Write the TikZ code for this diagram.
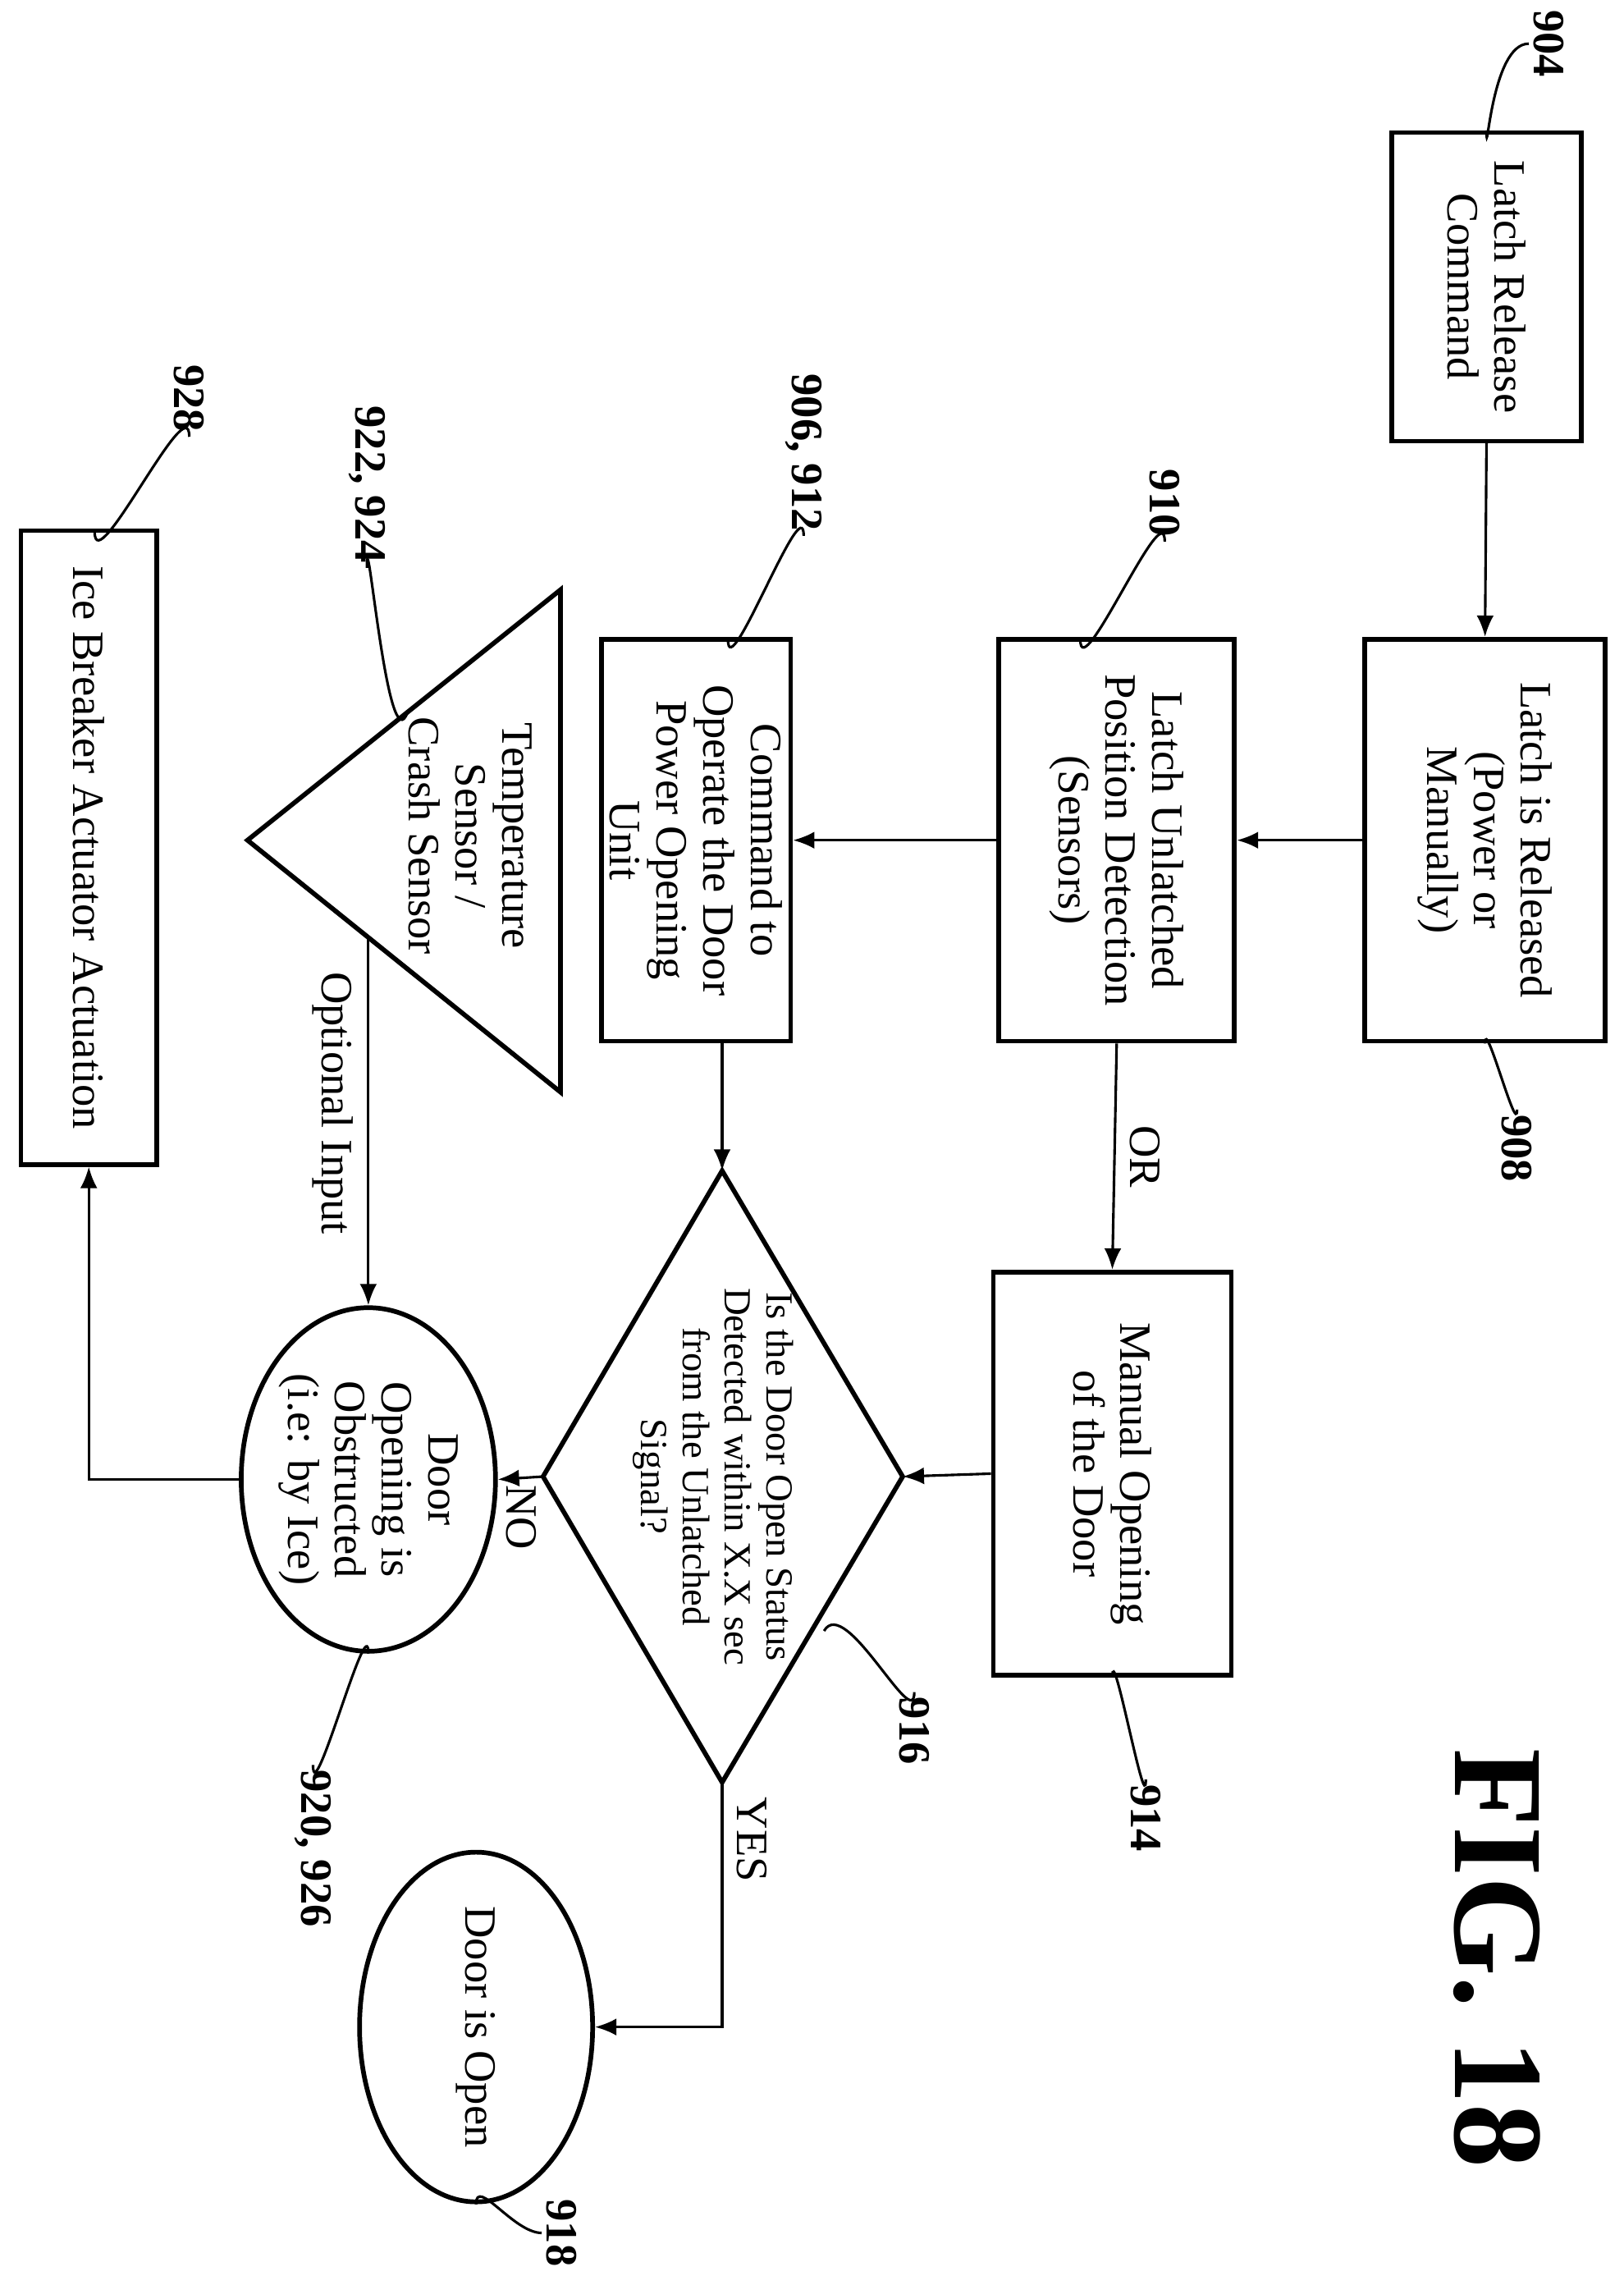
\documentclass[tikz,border=0pt]{standalone}
\usepackage{fontspec}
\setmainfont{Liberation Serif}
\usetikzlibrary{shapes.geometric,arrows.meta}

\tikzset{
  box/.style={draw, line width=1.1pt, rotate=-90, align=center, inner sep=2pt},
  oval/.style={draw, line width=1.1pt, ellipse, rotate=-90, align=center, inner sep=0pt},
  txt/.style={rotate=-90, align=center, font=\fontsize{10.5}{11}\selectfont},
  ref/.style={rotate=-90, font=\bfseries\fontsize{10.5}{11}\selectfont, inner sep=1pt},
  flow/.style={-{Latex[length=5pt,width=4pt]}, line width=0.6pt},
  lead/.style={line width=0.6pt},
}

\begin{document}
\begin{tikzpicture}[x=0.012cm, y=-0.012cm, font=\fontsize{10.5}{11}\selectfont]
  \useasboundingbox (0,0) rectangle (1115,1563);

  % boxes
  \node[box, minimum width=2.54cm, minimum height=1.56cm] (n904) at (1021,197) {Latch Release\\Command};
  \node[box, minimum width=3.31cm, minimum height=1.98cm] (n908) at (1020,577) {Latch is Released\\(Power or\\Manually)};
  \node[box, minimum width=3.31cm, minimum height=1.94cm] (n910) at (767,577) {Latch Unlatched\\Position Detection\\(Sensors)};
  \node[box, minimum width=3.31cm, minimum height=1.36cm] (n906) at (478,577) {Command to\\Operate the Door\\Power Opening\\Unit};
  \node[box, minimum width=3.32cm, minimum height=1.96cm] (n914) at (764,1012) {Manual Opening\\of the Door};
  \node[box, minimum width=5.22cm, minimum height=1.12cm] (ice) at (61,582) {Ice Breaker Actuator Actuation};

  % decision
  \coordinate (dT) at (496,804);
  \coordinate (dR) at (620,1014);
  \coordinate (dB) at (496,1224);
  \coordinate (dL) at (373,1014);
  \draw[line width=1.1pt] (dT) -- (dR) -- (dB) -- (dL) -- cycle;
  \node[txt, font=\fontsize{9}{9.8}\selectfont] (dia) at (490,1014) {Is the Door Open Status\\Detected within X.X sec\\from the Unlatched\\Signal?};

  % ends
  \node[oval, minimum width=2.83cm, minimum height=1.94cm] (n920) at (253,1016) {Door\\Opening is\\Obstructed\\(i.e: by Ice)};
  \node[oval, minimum width=2.88cm, minimum height=1.92cm] (n918) at (327,1392) {Door is Open};

  % sensor triangle
  \coordinate (t1) at (385,405);
  \coordinate (t2) at (385,750);
  \coordinate (t3) at (170,577);
  \draw[line width=1.1pt] (t1) -- (t2) -- (t3) -- cycle;
  \node[txt] (sens) at (323,574) {Temperature\\Sensor /\\Crash Sensor};
  \coordinate (sout) at (253,644);

  % flow
  \draw[flow] (n904.east) -- (n908.west);
  \draw[flow] (n908.south) -- (n910.north);
  \draw[flow] (n910.south) -- (n906.north);
  \draw[flow] (n910.east) -- node[txt, above] {OR} (n914.west);
  \draw[flow] (dT |- n906.east) -- (dT);
  \draw[flow] (n914.south) -- (dR);
  \draw[flow] (dL) -- (n920.north);
  \node[txt] (no) at (358,1042) {NO};
  \draw[flow] (dB) |- (n918.north);
  \node[txt, anchor=south west] (yes) at (dB) {YES};
  \draw[flow] (n920.south) -| (ice.east);
  \draw[flow] (sout) -- node[txt, below, pos=0.45] {Optional Input} (n920.west);

  % reference numerals
  \node[ref, anchor=south] (r904) at (1050,30) {904};
  \draw[lead] (n904.west) to[out=-90, in=180] (r904.south);
  \node[ref, anchor=west] (r908) at (1042,762) {908};
  \draw[lead] (n908.east) to[out=90, in=-90] (r908.west);
  \node[ref, anchor=east] (r910) at (800,372) {910};
  \draw[lead] (r910.east) to[out=90, in=-90] (742,439);
  \node[ref, anchor=east] (r906) at (552,368) {906, 912};
  \draw[lead] (r906.east) to[out=90, in=-90] (500,439);
  \node[ref, anchor=east] (r922) at (252,390) {922, 924};
  \draw[lead] (r922.east) to[out=90, in=-110] (280,489);
  \node[ref, anchor=east] (r928) at (130,300) {928};
  \draw[lead] (r928.east) to[out=90, in=-90] (65,365);
  \node[ref, anchor=west] (r914) at (787,1222) {914};
  \draw[lead] (n914.east) to[out=90, in=-90] (r914.west);
  \node[ref, anchor=west] (r916) at (628,1162) {916};
  \draw[lead] (566,1120) to[out=60, in=-90] (r916.west);
  \node[ref, anchor=west] (r920) at (215,1212) {920, 926};
  \draw[lead] (n920.east) to[out=90, in=-90] (r920.west);
  \node[ref, anchor=south east] (r918) at (372,1560) {918};
  \draw[lead] (n918.east) to[out=90, in=180] (r918.south);

  \node[rotate=-90, font=\bfseries\fontsize{30}{30}\selectfont] (fig) at (1028,1345) {FIG. 18};
\end{tikzpicture}
\end{document}
